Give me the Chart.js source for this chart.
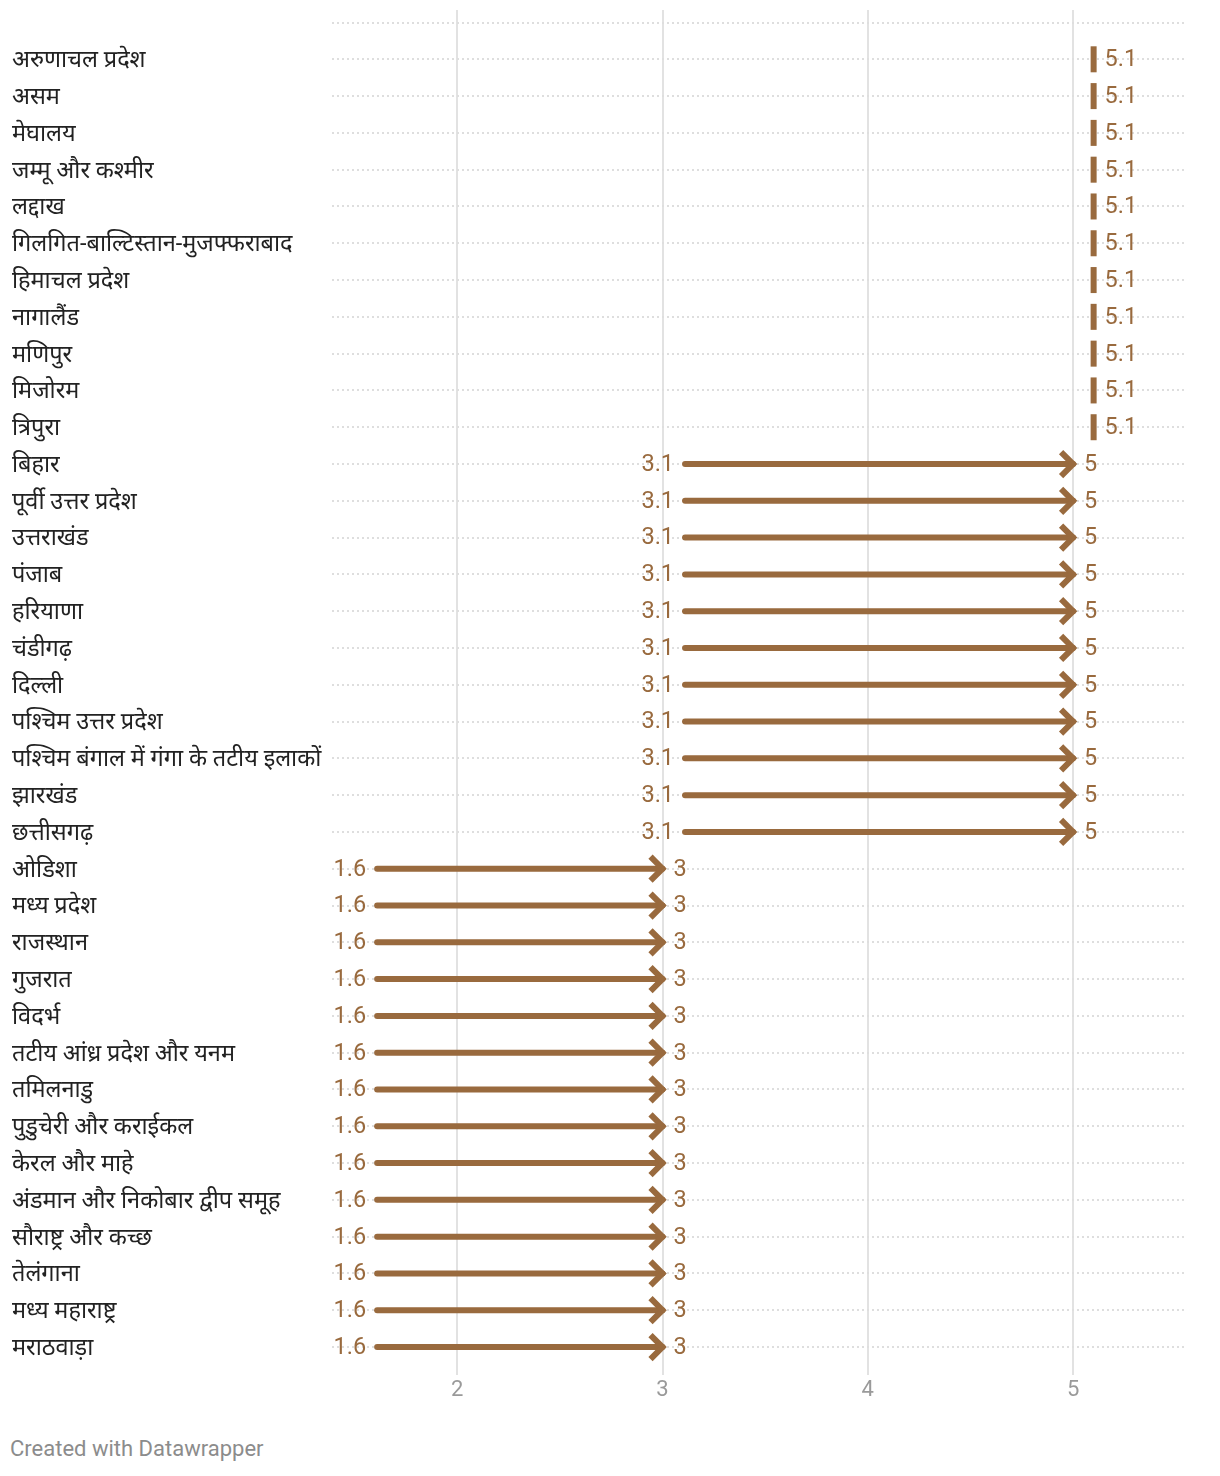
<!DOCTYPE html>
<html>
<head>
<meta charset="utf-8">
<script src="https://cdn.jsdelivr.net/npm/chart.js@4"></script>
<style>
  body { margin: 0; background: #fff; }
  #wrap { position: relative; width: 1220px; height: 1410px; }
  #footer { position: absolute; left: 10px; top: 1436px; font-family: Roboto, sans-serif; font-size: 22px; color: #8c8c8c; }
</style>
</head>
<body>
<div id="wrap"><canvas id="grafica"></canvas></div>
<div id="footer">Created with Datawrapper</div>
<script>
// राज्य / उपखंड
var labels = ['अरुणाचल प्रदेश', 'असम', 'मेघालय', 'जम्मू और कश्मीर', 'लद्दाख', 'गिलगित-बाल्टिस्तान-मुजफ्फराबाद',
    'हिमाचल प्रदेश', 'नागालैंड', 'मणिपुर', 'मिजोरम', 'त्रिपुरा', 'बिहार', 'पूर्वी उत्तर प्रदेश', 'उत्तराखंड', 'पंजाब',
    'हरियाणा', 'चंडीगढ़', 'दिल्ली', 'पश्चिम उत्तर प्रदेश', 'पश्चिम बंगाल में गंगा के तटीय इलाकों', 'झारखंड', 'छत्तीसगढ़',
    'ओडिशा', 'मध्य प्रदेश', 'राजस्थान', 'गुजरात', 'विदर्भ', 'तटीय आंध्र प्रदेश और यनम', 'तमिलनाडु', 'पुडुचेरी और कराईकल',
    'केरल और माहे', 'अंडमान और निकोबार द्वीप समूह', 'सौराष्ट्र और कच्छ', 'तेलंगाना', 'मध्य महाराष्ट्र', 'मराठवाड़ा'];
var startValues = [5.1, 5.1, 5.1, 5.1, 5.1, 5.1, 5.1, 5.1, 5.1, 5.1, 5.1,
    3.1, 3.1, 3.1, 3.1, 3.1, 3.1, 3.1, 3.1, 3.1, 3.1, 3.1,
    1.6, 1.6, 1.6, 1.6, 1.6, 1.6, 1.6, 1.6, 1.6, 1.6, 1.6, 1.6, 1.6, 1.6];
var endValues = [5.1, 5.1, 5.1, 5.1, 5.1, 5.1, 5.1, 5.1, 5.1, 5.1, 5.1,
    5, 5, 5, 5, 5, 5, 5, 5, 5, 5, 5,
    3, 3, 3, 3, 3, 3, 3, 3, 3, 3, 3, 3, 3, 3];
var xTicks = [2, 3, 4, 5];

var brown = '#996a3e';
var valueFont = '23.5px Roboto, sans-serif';

// dibuja flechas y etiquetas con las escalas del gráfico
var arrowPlugin = {
    id: 'arrows',
    afterDatasetsDraw: function (chart) {
        var ctx = chart.ctx;
        var xs = chart.scales.x, ys = chart.scales.y;
        ctx.save();
        ctx.strokeStyle = brown;
        ctx.fillStyle = brown;
        ctx.font = valueFont;
        ctx.textBaseline = 'middle';
        for (var i = 0; i < labels.length; i++) {
            var y = ys.getPixelForValue(i);
            var x0 = xs.getPixelForValue(startValues[i]);
            var x1 = xs.getPixelForValue(endValues[i]);
            if (startValues[i] === endValues[i]) {
                ctx.fillRect(x0 - 3, y - 13, 6, 26);
                ctx.textAlign = 'left';
                ctx.fillText(String(endValues[i]), x0 + 11, y + 1);
                continue;
            }
            ctx.lineWidth = 6;
            ctx.lineCap = 'round';
            ctx.beginPath();
            ctx.moveTo(x0 + 2, y);
            ctx.lineTo(x1, y);
            ctx.stroke();
            ctx.lineCap = 'butt';
            ctx.lineJoin = 'miter';
            ctx.beginPath();
            ctx.moveTo(x1 - 12, y - 12);
            ctx.lineTo(x1, y);
            ctx.lineTo(x1 - 12, y + 12);
            ctx.stroke();
            ctx.textAlign = 'right';
            ctx.fillText(String(startValues[i]), x0 - 9, y + 1);
            ctx.textAlign = 'left';
            ctx.fillText(String(endValues[i]), x1 + 11, y + 1);
        }
        ctx.restore();
    }
};

var gx = document.getElementById('grafica').getContext('2d');
var myChart = new Chart(gx, {
    type: 'scatter',
    data: {
        datasets: [{
            label: 'अंत',
            data: endValues.map(function (v, i) { return { x: v, y: i }; }),
            pointRadius: 0,
            pointHoverRadius: 0
        }]
    },
    options: {
        responsive: true,
        maintainAspectRatio: false,
        animation: false,
        layout: { padding: { left: 12, right: 34, top: 10, bottom: 0 } },
        plugins: { legend: { display: false }, tooltip: { enabled: false } },
        scales: {
            x: {
                type: 'linear',
                min: 1.39,
                max: 5.55,
                afterBuildTicks: function (scale) {
                    scale.ticks = xTicks.map(function (v) { return { value: v }; });
                },
                afterFit: function (scale) { scale.height = 35; },
                grid: { color: '#e2e2e2', lineWidth: 2, drawTicks: false },
                border: { display: false },
                ticks: { color: '#9a9a9a', padding: 2, font: { family: 'Roboto', size: 22 } }
            },
            y: {
                type: 'linear',
                reverse: true,
                min: -1.34,
                max: 35.76,
                afterBuildTicks: function (scale) {
                    var t = [];
                    for (var i = -1; i < labels.length; i++) t.push({ value: i });
                    scale.ticks = t;
                },
                afterFit: function (scale) {
                    scale.width = 320;
                    scale.paddingTop = 0;
                    scale.paddingBottom = 0;
                },
                grid: { color: '#dedede', lineWidth: 2, drawTicks: false },
                border: { display: false, dash: [2, 3] },
                ticks: {
                    crossAlign: 'far',
                    labelOffset: 2,
                    color: '#222222',
                    font: { family: 'Roboto, "Noto Sans", sans-serif', size: 23.5 },
                    callback: function (v) { return labels[v] || ''; }
                }
            }
        }
    },
    plugins: [arrowPlugin]
});
</script>
</body>
</html>
